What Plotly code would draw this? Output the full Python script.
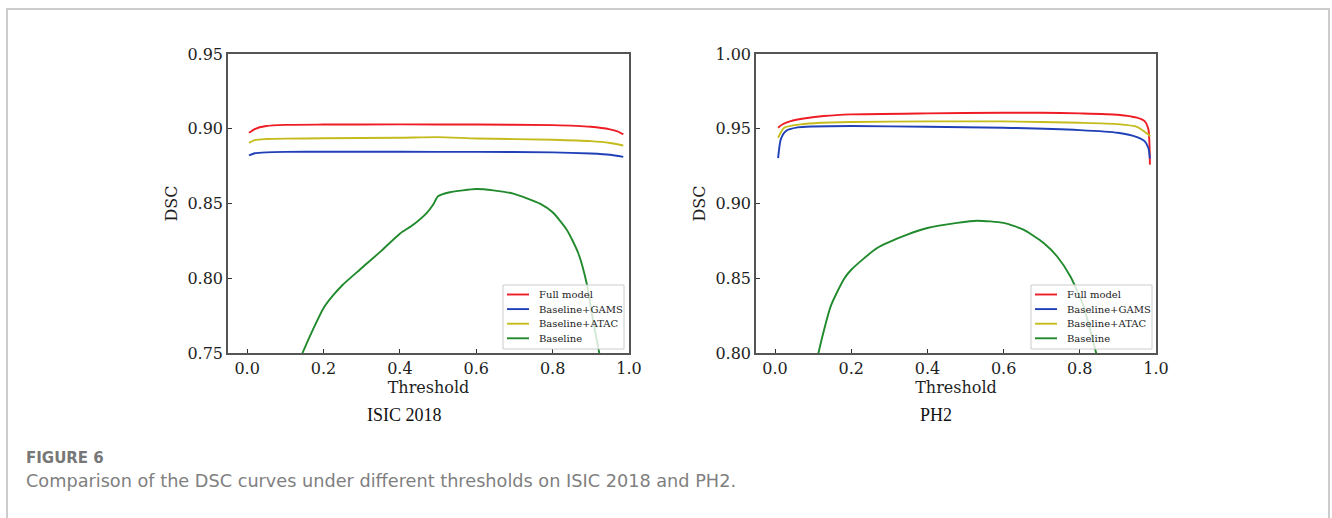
import plotly.graph_objects as go

# ---------------- data ----------------
# ISIC 2018
isic_full_x = [0.005, 0.02, 0.05, 0.1, 0.2, 0.4, 0.6, 0.8, 0.9, 0.95, 0.97, 0.985]
isic_full_y = [0.8973, 0.8998, 0.9018, 0.9026, 0.9028, 0.9029, 0.9028, 0.9024, 0.9013, 0.8996, 0.8982, 0.8962]
isic_gams_x = [0.005, 0.02, 0.05, 0.1, 0.2, 0.4, 0.6, 0.8, 0.9, 0.95, 0.985]
isic_gams_y = [0.8822, 0.8836, 0.8842, 0.8845, 0.8846, 0.8846, 0.8845, 0.8842, 0.8834, 0.8826, 0.8812]
isic_atac_x = [0.005, 0.02, 0.05, 0.1, 0.2, 0.4, 0.5, 0.6, 0.8, 0.9, 0.95, 0.985]
isic_atac_y = [0.8906, 0.8924, 0.8931, 0.8934, 0.8936, 0.8940, 0.8944, 0.8935, 0.8926, 0.8917, 0.8905, 0.8888]
isic_base_x = [0.12, 0.145, 0.173, 0.2, 0.225, 0.25, 0.295, 0.35, 0.4, 0.435, 0.47, 0.487, 0.5, 0.531, 0.6,
               0.645, 0.697, 0.767, 0.8, 0.837, 0.867, 0.889, 0.907, 0.922, 0.94]
isic_base_y = [0.735, 0.750, 0.7660, 0.7800, 0.7885, 0.7955, 0.8057, 0.8180, 0.8298, 0.8358, 0.8436, 0.8492, 0.8548,
               0.8575, 0.8597, 0.8588, 0.8566, 0.8499, 0.8441, 0.8325, 0.8169, 0.7968, 0.7701, 0.750, 0.715]

# PH2
ph2_full_x = [0.008, 0.02, 0.041, 0.08, 0.128, 0.2, 0.4, 0.6, 0.7, 0.8, 0.9, 0.95, 0.97, 0.98, 0.984]
ph2_full_y = [0.9507, 0.9530, 0.9551, 0.9570, 0.9585, 0.9596, 0.9603, 0.9607, 0.9607, 0.9603, 0.9594, 0.9574, 0.9551, 0.9496, 0.9260]
ph2_gams_x = [0.008, 0.015, 0.028, 0.059, 0.1, 0.2, 0.4, 0.6, 0.8, 0.9, 0.95, 0.97, 0.98, 0.984]
ph2_gams_y = [0.9304, 0.9429, 0.9484, 0.9509, 0.9515, 0.9518, 0.9513, 0.9507, 0.9491, 0.9473, 0.9444, 0.9417, 0.9371, 0.9300]
ph2_atac_x = [0.008, 0.024, 0.067, 0.12, 0.2, 0.4, 0.6, 0.8, 0.9, 0.95, 0.985]
ph2_atac_y = [0.9440, 0.9507, 0.9529, 0.9540, 0.9545, 0.9549, 0.9549, 0.9540, 0.9531, 0.9513, 0.9451]
ph2_base_x = [0.10, 0.114, 0.146, 0.181, 0.2, 0.268, 0.347, 0.4, 0.478, 0.53, 0.6, 0.652, 0.705,
              0.74, 0.775, 0.81, 0.843, 0.86]
ph2_base_y = [0.780, 0.800, 0.8312, 0.8495, 0.8557, 0.8702, 0.8792, 0.8836, 0.8870, 0.8885, 0.8870,
              0.8825, 0.8736, 0.8647, 0.8513, 0.8312, 0.800, 0.785]

series_names = ["Full model", "Baseline+GAMS", "Baseline+ATAC", "Baseline"]
series_colors = ["#ee1c25", "#2040b8", "#c4bc1c", "#208a2c"]
x_ticks = [0.0, 0.2, 0.4, 0.6, 0.8, 1.0]
isic_y_ticks = [0.75, 0.80, 0.85, 0.90, 0.95]
ph2_y_ticks = [0.80, 0.85, 0.90, 0.95, 1.00]
panel_titles = ["ISIC 2018", "PH2"]
fig_label = "FIGURE 6"
fig_caption = "Comparison of the DSC curves under different thresholds on ISIC 2018 and PH2."

W, H = 1332, 518
SERIF = "DejaVu Serif"

fig = go.Figure()

isic = [(isic_full_x, isic_full_y), (isic_gams_x, isic_gams_y), (isic_atac_x, isic_atac_y), (isic_base_x, isic_base_y)]
ph2 = [(ph2_full_x, ph2_full_y), (ph2_gams_x, ph2_gams_y), (ph2_atac_x, ph2_atac_y), (ph2_base_x, ph2_base_y)]

for (xs, ys), name, col in zip(isic, series_names, series_colors):
    fig.add_trace(go.Scatter(x=xs, y=ys, mode="lines", name=name,
                             line=dict(color=col, width=1.9, shape="spline", smoothing=0.6),
                             xaxis="x", yaxis="y", showlegend=False))
for (xs, ys), name, col in zip(ph2, series_names, series_colors):
    fig.add_trace(go.Scatter(x=xs, y=ys, mode="lines", name=name,
                             line=dict(color=col, width=1.9, shape="spline", smoothing=0.6),
                             xaxis="x2", yaxis="y2", showlegend=False))


def px(v):
    return v / W


def py(v):
    return 1 - v / H


axis_common = dict(showgrid=False, zeroline=False, showline=True, mirror=True, linecolor="#555555", linewidth=1.5,
                   ticks="inside", ticklen=4, tickwidth=1, tickcolor="#333333", automargin=False,
                   tickfont=dict(family=SERIF, size=16, color="#1e1e1e"))
title_font = dict(family=SERIF, size=16, color="#1e1e1e")

fig.update_layout(
    width=W, height=H, margin=dict(l=0, r=0, t=0, b=0, pad=0, autoexpand=False),
    paper_bgcolor="white", plot_bgcolor="white", showlegend=False,
    xaxis=dict(domain=[px(228), px(629)], range=[-0.05, 1.0], tickvals=x_ticks, ticktext=[f"{v:.1f}" for v in x_ticks],
               anchor="y", title=dict(text="Threshold", font=title_font, standoff=0), **axis_common),
    yaxis=dict(domain=[py(353), py(54)], range=[0.75, 0.95], tickvals=isic_y_ticks, ticktext=[f"{v:.2f}" for v in isic_y_ticks],
               anchor="x", title=dict(text="DSC", font=title_font, standoff=6), **axis_common),
    xaxis2=dict(domain=[px(756), px(1156)], range=[-0.05, 1.0], tickvals=x_ticks, ticktext=[f"{v:.1f}" for v in x_ticks],
                anchor="y2", title=dict(text="Threshold", font=title_font, standoff=0), **axis_common),
    yaxis2=dict(domain=[py(353), py(54)], range=[0.80, 1.00], tickvals=ph2_y_ticks, ticktext=[f"{v:.2f}" for v in ph2_y_ticks],
                anchor="x2", title=dict(text="DSC", font=title_font, standoff=6), **axis_common),
)

# page border
fig.add_shape(type="rect", xref="paper", yref="paper", x0=px(7), x1=px(1329), y0=-0.05, y1=py(9),
              line=dict(color="#cccccc", width=2), fillcolor="rgba(0,0,0,0)", layer="below")

# legends (one box per panel), built from the series names/colours
for lx0 in (503, 1031):
    lx1 = lx0 + 121
    fig.add_shape(type="rect", xref="paper", yref="paper", x0=px(lx0), x1=px(lx1), y0=py(349), y1=py(285),
                  line=dict(color="#cccccc", width=1), fillcolor="rgba(255,255,255,0.8)", layer="above")
    for i, (name, col) in enumerate(zip(series_names, series_colors)):
        yy = 294.5 + i * 14.6
        fig.add_shape(type="line", xref="paper", yref="paper", x0=px(lx0 + 4), x1=px(lx0 + 26), y0=py(yy), y1=py(yy),
                      line=dict(color=col, width=1.9), layer="above")
        fig.add_annotation(x=px(lx0 + 34), y=py(yy), xref="paper", yref="paper", text=name, showarrow=False,
                           font=dict(family=SERIF, size=10, color="#222222"), xanchor="left", yanchor="middle")

fig.add_annotation(x=px(404), y=py(415), xref="paper", yref="paper", text=panel_titles[0], showarrow=False,
                   font=dict(family="Liberation Serif", size=18, color="#111111"), xanchor="center", yanchor="middle")
fig.add_annotation(x=px(936), y=py(415), xref="paper", yref="paper", text=panel_titles[1], showarrow=False,
                   font=dict(family="Liberation Serif", size=18, color="#111111"), xanchor="center", yanchor="middle")
fig.add_annotation(x=px(24), y=py(458), xref="paper", yref="paper", text="<b>" + fig_label + "</b>", showarrow=False,
                   font=dict(family="DejaVu Sans", size=15, color="#777777"), xanchor="left", yanchor="middle")
fig.add_annotation(x=px(24), y=py(481), xref="paper", yref="paper", text=fig_caption, showarrow=False,
                   font=dict(family="DejaVu Sans", size=17.7, color="#808080"), xanchor="left", yanchor="middle")

fig.write_html("out.html", config={"displayModeBar": False},
               post_script="document.body.style.margin='0';")
